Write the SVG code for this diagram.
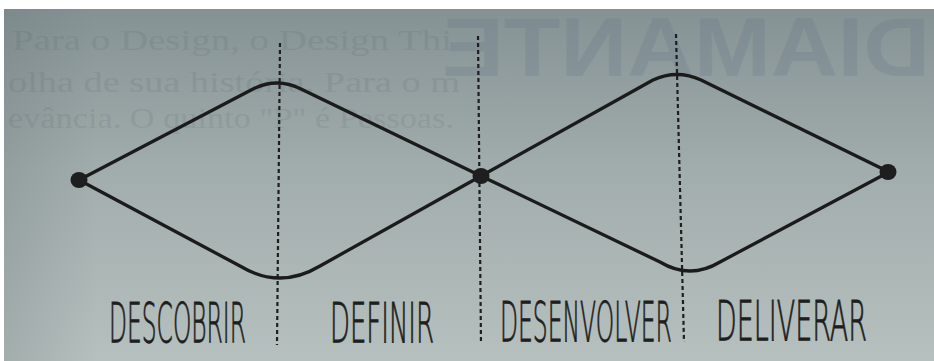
<svg xmlns="http://www.w3.org/2000/svg" width="934" height="361" viewBox="0 0 934 361">
  <defs>
    <linearGradient id="paper" x1="0" y1="0" x2="0" y2="1">
      <stop offset="0" stop-color="#859294"/>
      <stop offset="0.45" stop-color="#a1acac"/>
      <stop offset="1" stop-color="#b6c0be"/>
    </linearGradient>
    <linearGradient id="vign" x1="0" y1="0" x2="1" y2="0">
      <stop offset="0" stop-color="#5f6b6e" stop-opacity="0.22"/>
      <stop offset="0.1" stop-color="#5f6b6e" stop-opacity="0"/>
      <stop offset="1" stop-color="#5f6b6e" stop-opacity="0"/>
    </linearGradient>
    <style>
      .bleed { font-family: "Liberation Serif", serif; font-size: 30px; fill: #4c5a62; opacity: 0.13; }
      .big { font-family: "Liberation Sans", sans-serif; font-weight: bold; font-size: 84px; fill: #5b6f86; opacity: 0.2; }
      .curve { fill: none; stroke: #1b1b1b; stroke-width: 3.3; stroke-linecap: round; stroke-linejoin: round; }
      .divider { fill: none; stroke: #1e1e1e; stroke-width: 2.2; stroke-dasharray: 4 3; }
      .dot { fill: #1e1e1e; }
      .label { font-family: "DejaVu Sans", "Liberation Sans", sans-serif; font-weight: 200; font-size: 56px; fill: #1e1e1e; stroke: #1e1e1e; stroke-width: 0.9; }
    </style>
  </defs>

  <rect x="0" y="0" width="934" height="361" fill="#ffffff"/>
  <rect x="4" y="9" width="930" height="352" fill="url(#paper)"/>
  <rect x="4" y="9" width="930" height="352" fill="url(#vign)"/>

  <g id="bleed-through">
    <text class="bleed" x="12" y="50" textLength="440" lengthAdjust="spacingAndGlyphs">Para o Design, o Design Thi</text>
    <text class="bleed" x="8" y="92" textLength="452" lengthAdjust="spacingAndGlyphs">olha de sua história. Para o m</text>
    <text class="bleed" x="8" y="128" textLength="446" lengthAdjust="spacingAndGlyphs">evância. O quinto "P" é Pessoas.</text>
    <text class="big" transform="translate(930,0) scale(-1,1)" x="0" y="76" textLength="488" lengthAdjust="spacingAndGlyphs">DIAMANTE</text>
  </g>

  <g id="connectors">
    <path id="div-1" class="divider" d="M280,43 L277,345"/>
    <path id="div-2" class="divider" d="M478,36 L481,344"/>
    <path id="div-3" class="divider" d="M676,34 L684,342"/>
    <path id="diamond1-top" class="curve" d="M79,180 L253,89 Q277,77 301,89 L481,176"/>
    <path id="diamond1-bottom" class="curve" d="M79,180 L240,266 Q280,290 320,266 L481,176"/>
    <path id="diamond2-top" class="curve" d="M481,176 L653,80 Q677,69 701,80 L889,172"/>
    <path id="diamond2-bottom" class="curve" d="M481,176 L660,262 Q690,280 720,262 L889,172"/>
  </g>

  <g id="node-start"><ellipse class="dot" cx="79" cy="180" rx="8.5" ry="8"/></g>
  <g id="node-middle"><ellipse class="dot" cx="481" cy="176" rx="8.5" ry="8"/></g>
  <g id="node-end"><ellipse class="dot" cx="888" cy="172" rx="8.5" ry="8"/></g>

  <g id="label-descobrir"><text class="label" transform="translate(109,342) scale(0.424,1)" x="0" y="0" textLength="323" lengthAdjust="spacingAndGlyphs">DESCOBRIR</text></g>
  <g id="label-definir"><text class="label" transform="translate(330,342) scale(0.475,1)" x="0" y="0" textLength="219" lengthAdjust="spacingAndGlyphs">DEFINIR</text></g>
  <g id="label-desenvolver"><text class="label" transform="translate(500,341) scale(0.42,1)" x="0" y="0" textLength="409" lengthAdjust="spacingAndGlyphs">DESENVOLVER</text></g>
  <g id="label-deliverar"><text class="label" transform="translate(716,340) scale(0.49,1)" x="0" y="0" textLength="308" lengthAdjust="spacingAndGlyphs">DELIVERAR</text></g>
</svg>
